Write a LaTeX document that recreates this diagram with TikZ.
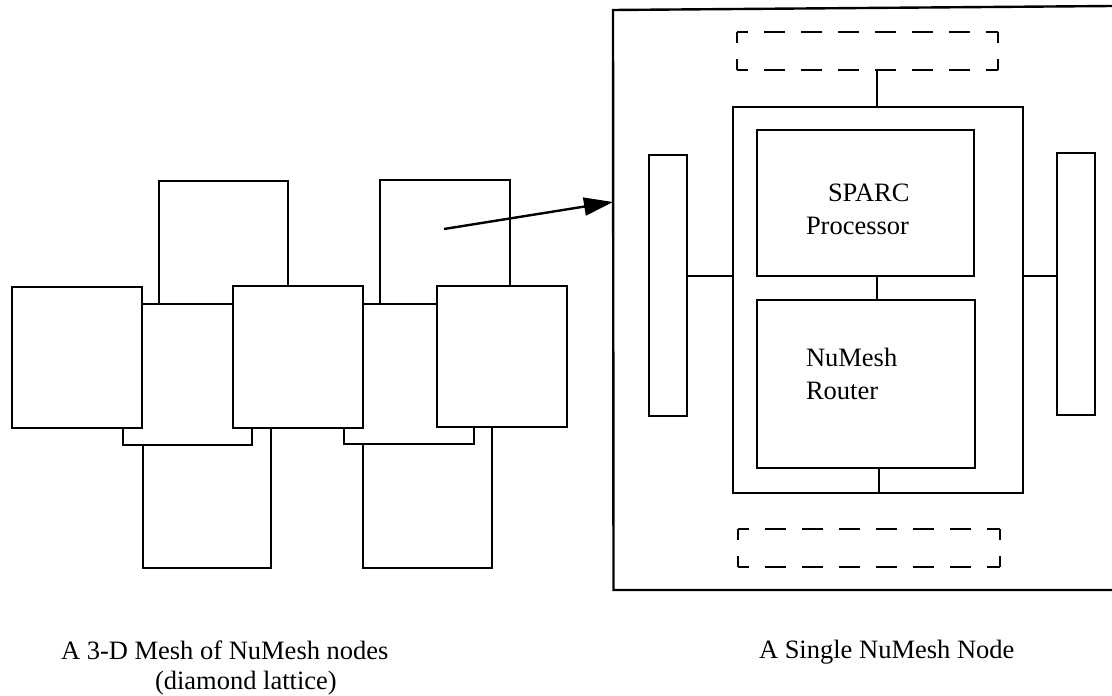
\documentclass[tikz,border=0pt]{standalone}
\usepackage{fontspec}
\setmainfont{Liberation Serif}
\usetikzlibrary{arrows.meta,calc}

% rectangle node from its top-left corner (x1,y1) to its bottom-right corner (x2,y2)
\newcommand\rectnode[6]{%
  \node[#1, anchor=north west, minimum width={(#5-#3)*1pt},
        minimum height={(#6-#4)*1pt}] (#2) at (#3,#4) {};}

\tikzset{
  mbox/.style={draw, fill=white, line width=2.7pt, outer sep=0pt, inner sep=0pt},
  nbox/.style={draw, line width=2.4pt, outer sep=0pt, inner sep=0pt},
  portbox/.style={outer sep=0pt, inner sep=0pt},
  dashside/.style={line width=2.2pt, dash pattern=on 21pt off 16pt, dash phase=10pt},
  wire/.style={line width=2pt},
  lbl/.style={inner sep=0pt, outer sep=0pt, anchor=base west,
              font=\fontsize{26.5}{31}\selectfont},
}

\begin{document}
\begin{tikzpicture}[x=1pt, y=-1pt]
\useasboundingbox (0,0) rectangle (1112,696);

% ---- 3-D mesh, drawn back to front ----
% upper (back) layer
\rectnode{mbox}{u1}{159}{181}{288}{323}
\rectnode{mbox}{u2}{380}{180}{510}{322}
% lower layer
\rectnode{mbox}{l1}{143}{426}{271}{568}
\rectnode{mbox}{l2}{363}{426}{492}{568}
% middle layer
\rectnode{mbox}{m1}{123}{304}{252}{445}
\rectnode{mbox}{m2}{344}{304}{474}{444}
% front layer
\rectnode{mbox}{f1}{12}{287}{142}{428}
\rectnode{mbox}{f2}{233}{286}{363}{428}
\rectnode{mbox}{f3}{437}{286}{567}{427}

% ---- single node: outer frame (open to the right) ----
\coordinate (frametr) at (1112,6);
\coordinate (frametl) at (613,10);
\coordinate (framebl) at (613.5,590);
\coordinate (framebr) at (1112,590);
\draw[nbox] (frametr) -- (frametl) -- (framebl) -- (framebr);

% zoom arrow from the mesh into the node
\coordinate (zoomfrom) at (444,229);
\coordinate (zoomto) at (613,202);
\draw[line width=2.4pt, -{Triangle[length=29pt,width=18pt]}] (zoomfrom) -- (zoomto);

% inner frame, processor and router
\rectnode{nbox}{inner}{733}{107}{1023}{493}
\rectnode{nbox}{sparc}{757}{130}{974}{276}
\rectnode{nbox}{router}{757}{300}{975}{468}

% side links
\rectnode{nbox}{lbar}{649}{155}{687}{416}
\rectnode{nbox}{rbar}{1057}{153}{1095}{415}

% dashed ports above and below
\rectnode{portbox}{topport}{737}{32}{998}{70}
\rectnode{portbox}{botport}{738}{529}{1000}{567}
\foreach \p in {topport,botport}{
  \draw[dashside] (\p.north west) -- (\p.north east);
  \draw[dashside] (\p.south west) -- (\p.south east);
  \draw[dashside] (\p.north west) -- (\p.south west);
  \draw[dashside] (\p.north east) -- (\p.south east);
}

% connections
\coordinate (spineA) at (877,0);
\coordinate (spineB) at (879,0);
\draw[wire] (topport.south -| spineA) -- (inner.north -| spineA);
\draw[wire] (sparc.south -| spineA) -- (router.north -| spineA);
\draw[wire] (router.south -| spineB) -- (inner.south -| spineB);
\draw[wire] (lbar.east |- sparc.south) -- (inner.west |- sparc.south);
\draw[wire] (inner.east |- sparc.south) -- (rbar.west |- sparc.south);

% labels
\node[lbl] (sparcname) at (828,201.7) {SPARC};
\node[lbl] (sparcrole) at (806,234.5) {Processor};
\node[lbl] (routername) at (806,366) {NuMesh};
\node[lbl] (routerrole) at (806,399) {Router};

% captions
\node[lbl] (meshcap) at (61,659) {A 3-D Mesh of NuMesh nodes};
\node[lbl] (meshsub) at (155,689) {(diamond lattice)};
\node[lbl] (nodecap) at (759,658) {A Single NuMesh Node};
\end{tikzpicture}
\end{document}
